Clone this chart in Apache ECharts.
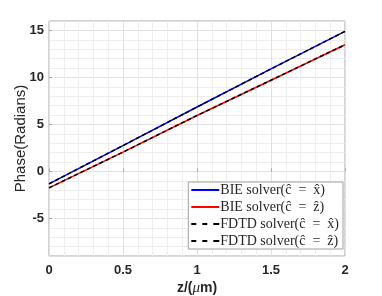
<!DOCTYPE html>
<html><head><meta charset="utf-8">
<script src="https://cdn.jsdelivr.net/npm/echarts@6/dist/echarts.min.js"></script>
<style>html,body{margin:0;padding:0;background:#fff}#c{width:382px;height:296px}</style>
</head><body><div id="c"></div>
<script>
const zValues = [0, 0.5, 1, 1.5, 2];
const bieX = [-1.32, 2.75, 6.85, 10.9, 14.9];
const bieZ = [-1.75, 2.05, 5.95, 9.7, 13.47];
const fdtdX = [-1.32, 2.75, 6.85, 10.9, 14.9];
const fdtdZ = [-1.75, 2.05, 5.95, 9.7, 13.47];
const seriesNames = ['BIE solver(ĉ = x̂)', 'BIE solver(ĉ = ẑ)', 'FDTD solver(ĉ = x̂)', 'FDTD solver(ĉ = ẑ)'];
const xTicks = ['0', '0.5', '1', '1.5', '2'];

const pairs = a => zValues.map((z, i) => [z, a[i]]);
const chart = echarts.init(document.getElementById('c'), null, {renderer: 'canvas'});
const tickFont = {fontFamily: 'Liberation Sans, Arial', fontWeight: 'bold', fontSize: 13, color: '#262626'};
const solidIcon = 'path://M0,0L28,0L28,2L0,2Z';
const dashIcon = 'path://M0,0L5,0L5,2L0,2ZM11,0L16,0L16,2L11,2ZM22,0L28,0L28,2L22,2Z';
chart.setOption({
  animation: false,
  grid: {left: 49, top: 21, right: 37, bottom: 40, outerBoundsMode: 'none', show: true, borderColor: '#a6a6a6', borderWidth: 1, backgroundColor: '#fff'},
  legend: {
    right: 39, top: 182, orient: 'vertical', itemGap: 1, itemWidth: 28, itemHeight: 2,
    backgroundColor: '#fff', borderColor: '#a0a0a0', borderWidth: 1, padding: [0, 4, 0, 3],
    textStyle: {fontFamily: 'Liberation Serif, DejaVu Serif', fontSize: 14, lineHeight: 16, color: '#262626', padding: [0, 0, 0, -4]},
    formatter: n => n.replace(' = ', '\u2002=\u2002'),
    data: seriesNames.map((n, i) => ({name: n, icon: i < 2 ? solidIcon : dashIcon}))
  },
  xAxis: {
    type: 'value', min: 0, max: 2, interval: 0.5,
    axisLine: {show: false},
    axisTick: {show: true, inside: true, length: 3, lineStyle: {color: '#a6a6a6'}},
    axisLabel: Object.assign({margin: 8, formatter: v => xTicks[Math.round(v * 2)] ?? ''}, tickFont),
    splitLine: {show: true, lineStyle: {color: '#e0e0e0', width: 1}},
    minorTick: {show: false, splitNumber: 5},
    minorSplitLine: {show: true, lineStyle: {color: '#eeeeee', width: 1}},
    name: '{b|z/(}{m|μ}{b|m)}', nameLocation: 'middle', nameGap: 25, nameMoveOverlap: false,
    nameTextStyle: {rich: {
      b: {fontFamily: 'Liberation Sans, Arial', fontWeight: 'bold', fontSize: 14, color: '#262626'},
      m: {fontFamily: 'Liberation Serif, DejaVu Serif', fontStyle: 'italic', fontSize: 15, color: '#262626'}
    }}
  },
  yAxis: {
    type: 'value', min: -9, max: 16, splitNumber: 5,
    axisLine: {show: false},
    axisTick: {show: true, inside: true, length: 3, lineStyle: {color: '#a6a6a6'}},
    axisLabel: Object.assign({margin: 5, showMinLabel: false, showMaxLabel: false}, tickFont),
    splitLine: {show: true, lineStyle: {color: '#e0e0e0', width: 1}},
    minorTick: {show: false, splitNumber: 5},
    minorSplitLine: {show: true, lineStyle: {color: '#eeeeee', width: 1}},
    name: 'Phase(Radians)', nameLocation: 'middle', nameGap: 21, nameMoveOverlap: false,
    nameTextStyle: {fontFamily: 'Liberation Sans, Arial', fontSize: 15, color: '#262626'}
  },
  series: [
    {name: seriesNames[0], type: 'line', data: pairs(bieX), showSymbol: false, lineStyle: {color: '#0000ff', width: 1.5}, itemStyle: {color: '#0000ff'}},
    {name: seriesNames[1], type: 'line', data: pairs(bieZ), showSymbol: false, lineStyle: {color: '#ff0000', width: 1.5}, itemStyle: {color: '#ff0000'}},
    {name: seriesNames[2], type: 'line', data: pairs(fdtdX), showSymbol: false, lineStyle: {color: '#000000', width: 1.5, type: [4, 3]}, itemStyle: {color: '#000000'}},
    {name: seriesNames[3], type: 'line', data: pairs(fdtdZ), showSymbol: false, lineStyle: {color: '#000000', width: 1.5, type: [4, 3]}, itemStyle: {color: '#000000'}}
  ]
});
</script></body></html>
